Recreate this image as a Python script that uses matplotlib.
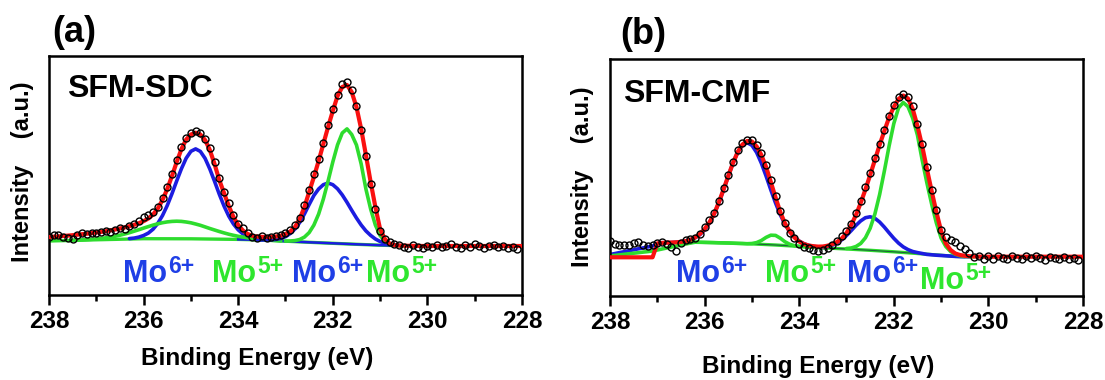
import numpy as np
import matplotlib
matplotlib.use('Agg')
import matplotlib.pyplot as plt
from matplotlib.ticker import MultipleLocator

plt.rcParams['font.family'] = ['Liberation Sans', 'DejaVu Sans']
plt.rcParams['font.weight'] = 'bold'

# ---------------- data (binding energy grid 238.0 -> 228.0, step 0.1 eV) ----------------
E_START = 238.0
E_STEP = 0.1

# ---- panel (a) SFM-SDC ----
red_a = [58.0, 58.3, 58.6, 59.0, 59.4, 59.8, 60.3, 60.8, 61.3, 61.9,
         62.5, 63.1, 63.8, 64.6, 65.5, 66.5, 67.6, 68.8, 70.2, 71.8,
         73.8, 76.5, 80.5, 86.5, 95.0, 106.0, 119.0, 133.0, 146.0, 155.5,
         160.5, 162.3, 160.5, 155.0, 145.0, 131.0, 115.0, 102.0, 89.0, 78.0,
         70.0, 64.5, 61.0, 59.2, 58.4, 58.1, 58.0, 58.1, 58.5, 59.3,
         61.0, 63.5, 68.0, 76.0, 88.0, 103.0, 118.0, 134.0, 151.0, 168.0,
         184.0, 199.0, 208.0, 210.0, 203.0, 188.0, 166.0, 140.0, 113.0, 88.0,
         66.0, 56.0, 51.5, 50.0, 49.5, 49.3, 49.2, 49.1, 49.1, 49.0,
         49.0, 49.0, 49.0, 49.0, 49.0, 49.0, 49.0, 49.0, 49.0, 49.0,
         49.0, 49.0, 49.0, 49.0, 49.0, 49.0, 49.0, 49.0, 49.0, 49.0,
         49.0]
data_a = [58.5, 59.8, 60.2, 58.2, 57.0, 56.0, 60.5, 62.0, 61.5, 62.0,
          62.0, 62.6, 64.5, 63.0, 64.8, 67.0, 66.5, 69.5, 71.0, 74.0,
          78.5, 80.0, 83.0, 88.0, 97.0, 108.0, 121.0, 135.0, 148.0, 157.5,
          162.0, 164.0, 162.5, 156.0, 147.0, 133.0, 117.5, 103.0, 92.0, 80.0,
          71.0, 67.0, 62.5, 58.5, 57.5, 58.8, 57.2, 57.8, 59.2, 60.0,
          62.5, 65.0, 70.0, 77.0, 90.0, 105.0, 121.0, 136.0, 152.0, 170.0,
          186.0, 200.0, 211.0, 213.0, 205.0, 189.0, 165.0, 139.0, 111.0, 86.0,
          64.0, 56.5, 53.0, 51.0, 50.2, 48.5, 47.5, 50.5, 48.0, 46.8,
          49.5, 48.0, 50.2, 47.8, 49.0, 51.0, 48.5, 47.5, 49.8, 48.2,
          51.5, 49.0, 47.5, 48.8, 50.0, 48.2, 49.5, 47.2, 48.5, 45.8]
bg_a_E = [238.0, 237.0, 236.0, 235.0, 234.0, 233.5, 233.0, 232.5, 232.0, 231.5, 231.0, 230.5]
bg_a_h = [54.0, 55.2, 56.3, 56.2, 55.6, 55.0, 53.8, 52.7, 51.7, 50.7, 49.8, 49.2]
# components: (first energy, values)
mo6_32_a = (236.3, [56.4, 56.9, 57.9, 59.5, 61.9, 65.8, 71.6, 79.5, 89.5, 101.3,
                    114.1, 126.3, 136.8, 143.7, 146.1, 143.6, 136.6, 126.0, 113.7, 100.8,
                    89.0, 78.9, 71.0, 65.1, 61.1, 58.6, 56.9, 55.9, 55.4])
mo5_32_a = (237.5, [54.7, 54.9, 55.1, 55.4, 55.7, 56.1, 56.6, 57.2, 57.9, 58.8,
                    59.8, 61.0, 62.3, 63.8, 65.3, 66.9, 68.4, 69.9, 71.2, 72.3,
                    73.1, 73.6, 73.8, 73.6, 73.0, 72.2, 71.0, 69.7, 68.1, 66.5,
                    65.0, 63.5, 62.1, 60.8, 59.7, 58.7, 57.9, 57.2, 56.5, 56.0,
                    55.6, 55.2, 54.8, 54.5, 54.1])
mo6_52_a = (233.6, [55.1, 55.1, 55.1, 55.2, 55.6, 56.5, 58.3, 61.5, 66.0, 72.5,
                    81.0, 90.5, 99.5, 106.0, 110.3, 112.0, 110.3, 106.2, 100.1, 92.7,
                    84.7, 77.0, 70.0, 64.1, 59.6, 56.0, 53.5, 51.9, 50.8, 50.1,
                    49.6])
mo5_52_a = (233.0, [53.9, 54.0, 54.4, 55.5, 57.9, 62.4, 69.9, 80.9, 95.9, 113.9,
                    133.0, 150.1, 162.0, 166.1, 160.5, 150.0, 131.0, 106.0, 86.0, 70.0,
                    59.5, 54.0, 51.3, 50.0, 49.5])

# ---- panel (b) SFM-CMF ----
red_b = [38.7, 38.7, 38.7, 38.7, 38.7, 38.7, 38.7, 38.7, 38.7, 38.7,
         52.6, 53.1, 53.3, 53.5, 53.7, 54.1, 54.9, 56.2, 58.5, 62.0,
         67.0, 73.5, 82.0, 93.5, 106.5, 120.0, 133.0, 144.0, 151.5, 155.0,
         154.5, 149.5, 141.0, 129.0, 114.0, 98.5, 84.0, 72.5, 64.5, 58.5,
         54.5, 52.0, 50.5, 49.8, 49.4, 49.5, 50.3, 51.8, 54.0, 57.5,
         63.0, 71.0, 81.0, 93.0, 106.5, 121.0, 136.0, 151.0, 165.0, 178.5,
         189.0, 197.0, 200.5, 197.5, 187.0, 170.0, 150.0, 127.0, 105.0, 84.0,
         65.0, 52.5, 46.0, 42.5, 41.0, 40.2, 39.8, 39.5, 39.4, 39.3,
         39.3, 39.3, 39.3, 39.3, 39.3, 39.3, 39.3, 39.3, 39.3, 39.3,
         39.3, 39.3, 39.3, 39.3, 39.3, 39.3, 39.3, 39.3, 39.3, 39.3,
         39.3]
data_b = [55.0, 52.0, 51.0, 51.0, 51.5, 53.0, 54.5, 51.5, 50.0, 51.5,
          53.5, 54.5, 52.0, 49.0, 45.0, 53.5, 56.5, 57.5, 58.5, 62.0,
          69.5, 76.0, 83.5, 95.0, 108.0, 121.5, 134.0, 146.0, 153.5, 156.5,
          156.0, 151.0, 143.0, 131.0, 116.0, 100.5, 85.0, 73.5, 63.5, 58.0,
          52.0, 49.5, 48.0, 46.0, 45.5, 46.5, 48.0, 51.0, 55.0, 60.0,
          65.0, 72.5, 83.0, 95.5, 109.0, 123.0, 138.0, 152.5, 166.5, 180.0,
          191.0, 199.0, 202.0, 199.5, 190.0, 172.5, 152.0, 129.0, 106.5, 86.0,
          66.0, 59.0, 56.0, 54.0, 50.0, 47.5, 43.0, 39.0, 40.5, 37.5,
          39.8, 37.0, 40.5, 38.2, 36.8, 40.0, 38.5, 37.2, 39.8, 38.0,
          40.2, 38.0, 36.5, 39.5, 38.4, 37.0, 39.0, 36.8, 38.5, 36.2]
bg_b_E = [236.2, 236.0, 235.5, 235.0, 234.5, 234.0, 233.5, 233.0, 232.5, 232.0, 231.5, 231.0, 230.7, 230.5]
bg_b_h = [53.8, 53.6, 53.0, 52.1, 51.0, 49.6, 48.2, 47.0, 45.7, 44.2, 42.5, 40.7, 39.6, 39.3]
mo6_32_b = (238.0, [41.5, 42.4, 43.4, 44.3, 45.3, 46.2, 47.2, 48.1, 49.1, 50.0,
                    52.0, 53.2, 53.3, 53.4, 53.8, 54.2, 55.0, 56.1, 58.2, 61.3,
                    66.1, 72.8, 81.9, 93.0, 106.0, 119.8, 132.8, 143.7, 150.9, 153.3,
                    150.7, 143.5, 132.8, 119.9, 106.1, 93.0, 81.3, 71.6, 64.2, 58.7,
                    54.9, 52.3, 50.6, 49.6, 48.9, 48.2])
mo5_32_b = (238.0, [40.0, 40.6, 41.1, 41.7, 42.2, 42.8, 43.3, 43.9, 44.4, 45.0,
                    46.0, 47.0, 48.0, 49.0, 50.0, 51.0, 52.0, 52.9, 53.8, 53.7,
                    53.6, 53.5, 53.4, 53.2, 53.1, 53.0, 52.8, 52.6, 52.5, 52.3,
                    52.5, 53.4, 55.5, 58.6, 60.8, 60.6, 57.8, 54.2, 51.7, 50.3,
                    49.6, 49.3, 49.0, 48.8, 48.5, 48.2])
mo6_52_b = (233.6, [48.9, 49.1, 49.7, 50.9, 53.1, 56.2, 60.5, 65.4, 70.6, 75.1,
                    78.3, 79.2, 77.7, 74.0, 68.9, 63.2, 57.7, 52.9, 49.1, 46.4,
                    44.5, 43.4, 42.5, 41.6, 41.2, 40.8, 40.5, 40.2, 39.9, 39.6,
                    39.4, 39.3, 39.3])
mo5_52_b = (233.0, [47.5, 48.0, 49.5, 52.5, 58.2, 67.7, 82.0, 101.4, 124.9, 149.9,
                    172.4, 188.1, 193.5, 189.3, 177.8, 160.9, 136.0, 113.0, 92.0, 73.0,
                    58.0, 49.5, 44.5, 41.8, 40.3, 39.6, 39.4, 39.3])

x_ticks = [238, 236, 234, 232, 230, 228]
panel_letters = ['(a)', '(b)']
sample_names = ['SFM-SDC', 'SFM-CMF']
peak_main = ['Mo', 'Mo', 'Mo', 'Mo']
peak_sup = ['6+', '5+', '6+', '5+']

RED = '#fa1010'
BLUE = '#1c1ce0'
GREEN = '#2edc2e'
TXT_BLUE = '#1f3fe6'
TXT_GREEN = '#2ee62e'


def energies(start, n):
    return np.round(start - E_STEP * np.arange(n), 2)


W, H = 1105, 380
fig = plt.figure(figsize=(W / 100, H / 100), dpi=100)
renderer = fig.canvas.get_renderer()


def fx(px):
    return px / W


def fy(py):
    return 1 - py / H


panels = [
    dict(rect=(49, 56, 522, 295), red=red_a, data=data_a, bgE=bg_a_E, bgH=bg_a_h,
         comps=[(mo6_32_a, BLUE), (mo5_32_a, GREEN), (mo6_52_a, BLUE), (mo5_52_a, GREEN)],
         blue_bg_from=234.0,
         letter=(52, 33), name=(67, 97), xlabel=(257, 359), ylabel=(23, 172),
         mo=[(123, 282), (212, 282), (292, 282), (366, 282)]),
    dict(rect=(610, 59, 1083, 296), red=red_b, data=data_b, bgE=bg_b_E, bgH=bg_b_h,
         comps=[(mo6_32_b, BLUE), (mo5_32_b, GREEN), (mo6_52_b, BLUE), (mo5_52_b, GREEN)],
         blue_bg_from=None,
         letter=(620, 35), name=(623, 102), xlabel=(818, 366), ylabel=(583, 177),
         mo=[(676, 282), (765, 282), (847, 282), (920, 289)]),
]

for i, p in enumerate(panels):
    l, t, r, b = p['rect']
    ax = fig.add_axes([fx(l), fy(b), fx(r) - fx(l), fy(t) - fy(b)])
    ax.set_xlim(238, 228)
    ax.set_ylim(0, b - t)

    # background
    bgE = np.array(p['bgE'])
    bgH = np.array(p['bgH'])
    ax.plot(bgE, bgH, color=GREEN, lw=2.4, zorder=2, solid_capstyle='round')
    if p['blue_bg_from'] is not None:
        m = bgE <= p['blue_bg_from']
        ax.plot(bgE[m], bgH[m], color=BLUE, lw=1.8, zorder=2.1)
    else:
        ax.plot(bgE, bgH, color='#1f5f3f', lw=0.8, zorder=2.2)

    for (start, vals), col in p['comps']:
        ax.plot(energies(start, len(vals)), vals, color=col, lw=2.6, zorder=2.5,
                solid_joinstyle='round', solid_capstyle='round')

    red = p['red']
    ax.plot(energies(E_START, len(red)), red, color=RED, lw=3.0, zorder=4,
            solid_joinstyle='round')
    dat = p['data']
    ax.plot(energies(E_START, len(dat)), dat, 'o', mfc='none', mec='black',
            ms=5.0, mew=1.0, zorder=5, clip_on=True)

    for s in ax.spines.values():
        s.set_linewidth(1.8)
    ax.set_yticks([])
    ax.set_xticks(x_ticks)
    ax.xaxis.set_minor_locator(MultipleLocator(1))
    ax.tick_params(axis='x', which='major', direction='out', length=7, width=1.8,
                   labelsize=17.5, pad=4)
    ax.tick_params(axis='x', which='minor', direction='out', length=4, width=1.8)
    for lab in ax.get_xticklabels():
        lab.set_fontweight('bold')

    fig.text(fx(p['letter'][0]), fy(p['letter'][1]), panel_letters[i], fontsize=26,
             fontweight='bold', ha='left', va='center')
    fig.text(fx(p['name'][0]), fy(p['name'][1]), sample_names[i], fontsize=23,
             fontweight='bold', ha='left', va='baseline')
    fig.text(fx(p['xlabel'][0]), fy(p['xlabel'][1]), 'Binding Energy (eV)', fontsize=17.5,
             fontweight='bold', ha='center', va='center')
    fig.text(fx(p['ylabel'][0]), fy(p['ylabel'][1]), 'Intensity    (a.u.)', fontsize=17,
             fontweight='bold', ha='center', va='center', rotation=90)
    cols = [TXT_BLUE, TXT_GREEN, TXT_BLUE, TXT_GREEN]
    for (mx, my), main, sup, c in zip(p['mo'], peak_main, peak_sup, cols):
        tm = fig.text(fx(mx), fy(my), main, fontsize=22, fontweight='bold', color=c,
                      ha='left', va='baseline')
        x1 = tm.get_window_extent(renderer).x1
        fig.text(x1 / W + fx(1), fy(my - 9), sup, fontsize=16.5, fontweight='bold',
                 color=c, ha='left', va='baseline')

fig.savefig('out.png', dpi=100)
